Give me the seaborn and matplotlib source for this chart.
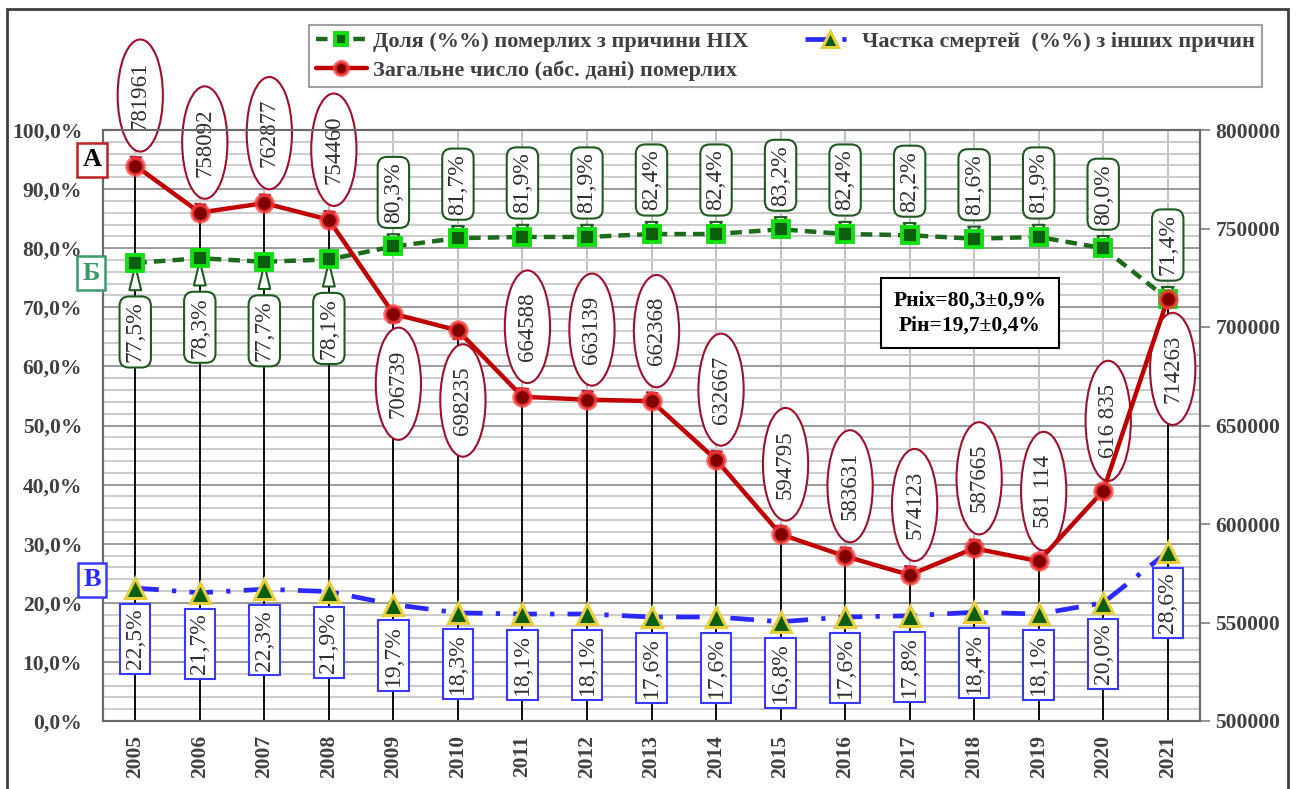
import numpy as np
import pandas as pd
import seaborn as sns
import matplotlib
matplotlib.use("Agg")
import matplotlib.pyplot as plt
from matplotlib.patches import Rectangle
from matplotlib.ticker import FuncFormatter, MultipleLocator, FixedLocator
from matplotlib.font_manager import FontProperties

# ---------------- data ----------------
years = [2005, 2006, 2007, 2008, 2009, 2010, 2011, 2012, 2013, 2014,
         2015, 2016, 2017, 2018, 2019, 2020, 2021]
nih_share = [77.5, 78.3, 77.7, 78.1, 80.3, 81.7, 81.9, 81.9, 82.4, 82.4,
             83.2, 82.4, 82.2, 81.6, 81.9, 80.0, 71.4]
other_share = [22.5, 21.7, 22.3, 21.9, 19.7, 18.3, 18.1, 18.1, 17.6, 17.6,
               16.8, 17.6, 17.8, 18.4, 18.1, 20.0, 28.6]
total_deaths = [781961, 758092, 762877, 754460, 706739, 698235, 664588, 663139,
                662368, 632667, 594795, 583631, 574123, 587665, 581114, 616835, 714263]
total_labels = ["781961", "758092", "762877", "754460", "706739", "698235", "664588",
                "663139", "662368", "632667", "594795", "583631", "574123", "587665",
                "581 114", "616 835", "714263"]
legend_labels = ["Доля (%%) померлих з причини НІХ",
                 "Загальне число (абс. дані) померлих",
                 "Частка смертей  (%%) з інших причин"]
stats_text = "Рніх=80,3±0,9%\nРін=19,7±0,4%"
marks = ["А", "Б", "В"]

W, H = 1297, 789

sns.set_style("white")
plt.rcParams['font.family'] = ['Liberation Serif', 'DejaVu Serif']

df = pd.DataFrame({"pos": np.arange(len(years)), "year": years,
                   "nih": nih_share, "other": other_share, "total": total_deaths})

fig = plt.figure(figsize=(W / 100, H / 100), dpi=100)
ax = fig.add_axes([103 / W, 1 - 721 / H, (1200 - 103) / W, (721 - 130) / H])
ax2 = ax.twinx()

# ---------------- lines ----------------
sns.lineplot(data=df, x="pos", y="nih", ax=ax, color="#1b6b1b", lw=3.2,
             linestyle=(0, (2.6, 1.6)), marker="s", markersize=11,
             markerfacecolor="#0b5e0b", markeredgecolor="#11e011",
             markeredgewidth=2.8, legend=False, zorder=6)
l_green = ax.lines[-1]
sns.lineplot(data=df, x="pos", y="other", ax=ax, color="#2a2aff", lw=3.4,
             linestyle=(0, (5, 2.8, 0.9, 2.8)), marker="^", markersize=14,
             markerfacecolor="#0b5e0b", markeredgecolor="#e8cf3a",
             markeredgewidth=2.2, legend=False, zorder=6)
l_blue = ax.lines[-1]
sns.lineplot(data=df, x="pos", y="total", ax=ax2, color="#c00000", lw=3.2,
             marker="o", markersize=12, markerfacecolor="#800000",
             markeredgecolor=(1.0, 0.25, 0.25, 0.75), markeredgewidth=2.8,
             legend=False, zorder=6)
l_red = ax2.lines[-1]

# ---------------- axes ----------------
ax.set_xlim(-0.5, len(years) - 0.5)
ax.set_ylim(0, 100)
ax2.set_ylim(500000, 800000)

ax.yaxis.set_major_locator(MultipleLocator(10))
ax.yaxis.set_minor_locator(MultipleLocator(2))
ax.yaxis.set_major_formatter(FuncFormatter(lambda v, p: f"{v:.1f}%".replace(".", ",")))
ax2.yaxis.set_major_locator(MultipleLocator(50000))
ax2.yaxis.set_major_formatter(FuncFormatter(lambda v, p: f"{int(v)}"))
ax.xaxis.set_major_locator(FixedLocator(df["pos"].tolist()))
ax.set_xticklabels([str(y) for y in years], rotation=90, fontweight="bold")

ax.grid(which="minor", axis="y", color="#cdcdcd", lw=1.5)
ax.grid(which="major", axis="y", color="#9a9a9a", lw=1.4)
ax.grid(which="major", axis="x", color="#b8b8b8", lw=1.2)
ax.set_axisbelow(True)

ax.tick_params(axis="y", which="both", length=0, pad=15, labelsize=15.5, labelcolor="#404040")
ax.tick_params(axis="x", length=0, pad=10, labelsize=15.5, labelcolor="#404040")
ax2.tick_params(axis="y", length=7, width=1.2, color="#808080", pad=4,
                labelsize=15.5, labelcolor="#404040")
for lbl in ax.get_yticklabels() + ax2.get_yticklabels() + ax.get_xticklabels():
    lbl.set_fontweight("bold")
ax.set_xlabel("")
ax.set_ylabel("")
ax2.set_ylabel("")
for a in (ax, ax2):
    for s in a.spines.values():
        s.set_color("#6a6a6a")
        s.set_linewidth(1.5)

# drop lines from the red points down to the axis
ax.vlines(df["pos"], 500000, df["total"], colors="black", lw=1.3,
          transform=ax2.transData, zorder=2)
ax.set_ylim(0, 100)

# ---------------- labels ----------------
lab_fs = 17
txt_col = "#303030"
for i, v in enumerate(nih_share):
    above = i >= 4
    ax.annotate(f"{v:.1f}%".replace(".", ","), xy=(i, v),
                xytext=(0, 54 if above else -69), textcoords="offset pixels",
                rotation=90, ha="center", va="center", fontsize=lab_fs, color=txt_col,
                bbox=dict(boxstyle="round,pad=0.22,rounding_size=0.4", fc="white",
                          ec="#1f5a1f", lw=1.5),
                arrowprops=dict(arrowstyle="wedge,tail_width=0.5", fc="white",
                                ec="#1f5a1f", lw=1.5, shrinkA=-4, shrinkB=2),
                zorder=4)

for i, v in enumerate(other_share):
    ax.annotate(f"{v:.1f}%".replace(".", ","), xy=(i, v),
                xytext=(0, -51), textcoords="offset pixels",
                rotation=90, ha="center", va="center", fontsize=lab_fs, color=txt_col,
                bbox=dict(boxstyle="square,pad=0.2", fc="white", ec="#3a3aff", lw=1.5),
                arrowprops=dict(arrowstyle="wedge,tail_width=0.5", fc="white",
                                ec="#3a3aff", lw=1.5, shrinkA=-4, shrinkB=2),
                zorder=4)

below_red = {4, 5, 16}
for i, (v, t) in enumerate(zip(total_deaths, total_labels)):
    dy = -70 if i in below_red else 70
    ax.annotate(t, xy=(i, v), xycoords=ax2.transData,
                xytext=(5, dy), textcoords="offset pixels",
                rotation=90, ha="center", va="center", fontsize=16.5, color=txt_col,
                bbox=dict(boxstyle="ellipse,pad=0.24", fc="white", ec="#a0102a", lw=1.5),
                arrowprops=dict(arrowstyle="wedge,tail_width=0.45", fc="white",
                                ec="#a0102a", lw=1.5, shrinkA=-4, shrinkB=2),
                zorder=4)

# ---------------- letter marks ----------------
mark_pos = [(92, 160), (91, 273), (92, 580)]
mark_ec = ["#c02020", "#3a9a6a", "#3a3aff"]
mark_tc = ["black", "#3a9a6a", "#2a2aff"]
for m, (px, py), ec, tc in zip(marks, mark_pos, mark_ec, mark_tc):
    fig.text(px / W, 1 - py / H, m, ha="center", va="center", fontsize=19,
             fontweight="bold", color=tc,
             bbox=dict(boxstyle="square,pad=0.2", fc="white", ec=ec, lw=1.8))

# stats box
fig.text(970 / W, 1 - 313 / H, stats_text, ha="center", va="center",
         multialignment="center", fontsize=15.5, fontweight="bold", color="black",
         linespacing=1.3,
         bbox=dict(boxstyle="square,pad=0.6", fc="white", ec="black", lw=1.5))

# legend
leg_font = FontProperties(family=["Liberation Serif", "DejaVu Serif"], weight="bold", size=16)
leg = fig.legend([l_green, l_red, l_blue], legend_labels, ncol=2, loc="upper left",
                 bbox_to_anchor=(309 / W, 1 - 25 / H), borderaxespad=0,
                 prop=leg_font, frameon=True,
                 fancybox=False, edgecolor="#8a8a8a", handlelength=2.3,
                 handletextpad=0.3, columnspacing=2.5, borderpad=0.3,
                 labelspacing=0.35, labelcolor="#404040", markerscale=0.8)
leg.get_frame().set_linewidth(1.5)

# outer border
fig.patches.append(Rectangle((7 / W, -0.05), (1288 - 7) / W, 1.05 - 9 / H,
                             transform=fig.transFigure, fill=False,
                             ec="#404040", lw=2))

fig.savefig("out.png", dpi=100)
